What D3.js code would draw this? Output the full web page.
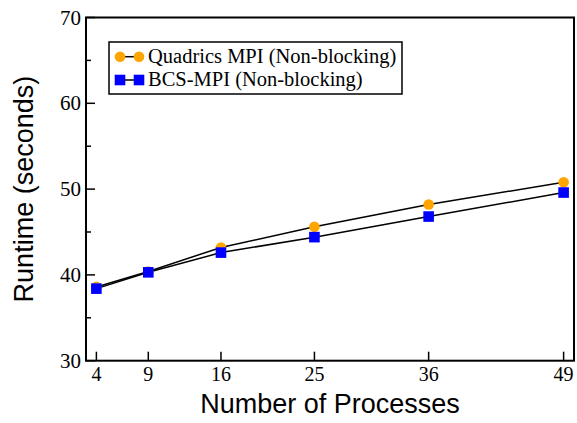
<!DOCTYPE html>
<html>
<head>
<meta charset="utf-8">
<script src="https://cdn.jsdelivr.net/npm/d3@7"></script>
<style>
body { margin: 0; background: #fff; }
</style>
</head>
<body>
<script>
var processes = [4, 9, 16, 25, 36, 49];
var quadrics = [38.6, 40.4, 43.2, 45.6, 48.2, 50.8];
var bcs = [38.4, 40.3, 42.6, 44.4, 46.8, 49.6];
var yTicks = [30, 40, 50, 60, 70];
var yMinor = [35, 45, 55, 65];

var W = 577, H = 423;
var plotLeft = 86, plotRight = 574, plotTop = 17.5, plotBottom = 360.7;

var svg = d3.select("body").append("svg")
	.attr("width", W)
	.attr("height", H);

var x = d3.scaleLinear().domain([3, 50]).range([plotLeft, plotRight]);
var y = d3.scaleLinear().domain([30, 70]).range([plotBottom, plotTop]);

// ticks (inside)
svg.selectAll(".ytick").data(yTicks).enter().append("line")
	.attr("x1", plotLeft).attr("x2", plotLeft + 9)
	.attr("y1", function(d){ return y(d); })
	.attr("y2", function(d){ return y(d); })
	.attr("stroke", "#000").attr("stroke-width", 1.5);
svg.selectAll(".yminor").data(yMinor).enter().append("line")
	.attr("x1", plotLeft).attr("x2", plotLeft + 5)
	.attr("y1", function(d){ return y(d); })
	.attr("y2", function(d){ return y(d); })
	.attr("stroke", "#000").attr("stroke-width", 1.5);
svg.selectAll(".xtick").data(processes).enter().append("line")
	.attr("x1", function(d){ return x(d); })
	.attr("x2", function(d){ return x(d); })
	.attr("y1", plotBottom).attr("y2", plotBottom - 9)
	.attr("stroke", "#000").attr("stroke-width", 1.5);

// tick labels
svg.selectAll(".ylab").data(yTicks).enter().append("text")
	.attr("x", plotLeft - 5)
	.attr("y", function(d){ return y(d) + 7; })
	.attr("text-anchor", "end")
	.style("font-family", "'Liberation Serif', serif")
	.style("font-size", "21px")
	.text(function(d){ return d; });
svg.selectAll(".xlab").data(processes).enter().append("text")
	.attr("x", function(d){ return x(d); })
	.attr("y", plotBottom + 20)
	.attr("text-anchor", "middle")
	.style("font-family", "'Liberation Serif', serif")
	.style("font-size", "20px")
	.text(function(d){ return d; });

// axis titles
svg.append("text")
	.attr("x", (plotLeft + plotRight) / 2)
	.attr("y", 413)
	.attr("text-anchor", "middle")
	.style("font-family", "'Liberation Sans', Arial, sans-serif")
	.style("font-size", "27px")
	.text("Number of Processes");
svg.append("text")
	.attr("transform", "translate(33," + ((plotTop + plotBottom) / 2) + ") rotate(-90)")
	.attr("text-anchor", "middle")
	.style("font-family", "'Liberation Sans', Arial, sans-serif")
	.style("font-size", "27px")
	.text("Runtime (seconds)");

// lines
var line = d3.line()
	.x(function(d, i){ return x(processes[i]); })
	.y(function(d){ return y(d); });

svg.append("path").datum(quadrics)
	.attr("d", line).attr("fill", "none")
	.attr("stroke", "#000").attr("stroke-width", 1.5);
svg.append("path").datum(bcs)
	.attr("d", line).attr("fill", "none")
	.attr("stroke", "#000").attr("stroke-width", 1.5);

svg.selectAll(".qpt").data(quadrics).enter().append("circle")
	.attr("cx", function(d, i){ return x(processes[i]); })
	.attr("cy", function(d){ return y(d); })
	.attr("r", 5.3)
	.attr("fill", "#ffa500");
svg.selectAll(".bpt").data(bcs).enter().append("rect")
	.attr("x", function(d, i){ return x(processes[i]) - 5.3; })
	.attr("y", function(d){ return y(d) - 5.3; })
	.attr("width", 10.6).attr("height", 10.6)
	.attr("fill", "#0000ff");

// frame
svg.append("rect")
	.attr("x", plotLeft).attr("y", plotTop)
	.attr("width", plotRight - plotLeft).attr("height", plotBottom - plotTop)
	.attr("fill", "none").attr("stroke", "#000").attr("stroke-width", 2);

// legend
var lg = svg.append("g");
lg.append("rect")
	.attr("x", 109).attr("y", 42).attr("width", 293).attr("height", 52)
	.attr("fill", "#fff").attr("stroke", "#000").attr("stroke-width", 1.5);
var items = [
	{ name: "Quadrics MPI (Non-blocking)", shape: "circle", color: "#ffa500" },
	{ name: "BCS-MPI (Non-blocking)", shape: "square", color: "#0000ff" }
];
items.forEach(function(it, i){
	var cy = 56.7 + i * 23.3;
	lg.append("line").attr("x1", 120).attr("x2", 139)
		.attr("y1", cy).attr("y2", cy)
		.attr("stroke", "#000").attr("stroke-width", 1.5);
	[120, 139].forEach(function(cx){
		if (it.shape === "circle") {
			lg.append("circle").attr("cx", cx).attr("cy", cy).attr("r", 5.3).attr("fill", it.color);
		} else {
			lg.append("rect").attr("x", cx - 5.3).attr("y", cy - 5.3)
				.attr("width", 10.6).attr("height", 10.6).attr("fill", it.color);
		}
	});
	lg.append("text")
		.attr("x", 148).attr("y", cy + 6)
		.style("font-family", "'Liberation Serif', serif")
		.style("font-size", "20.5px")
		.text(it.name);
});
</script>
</body>
</html>
